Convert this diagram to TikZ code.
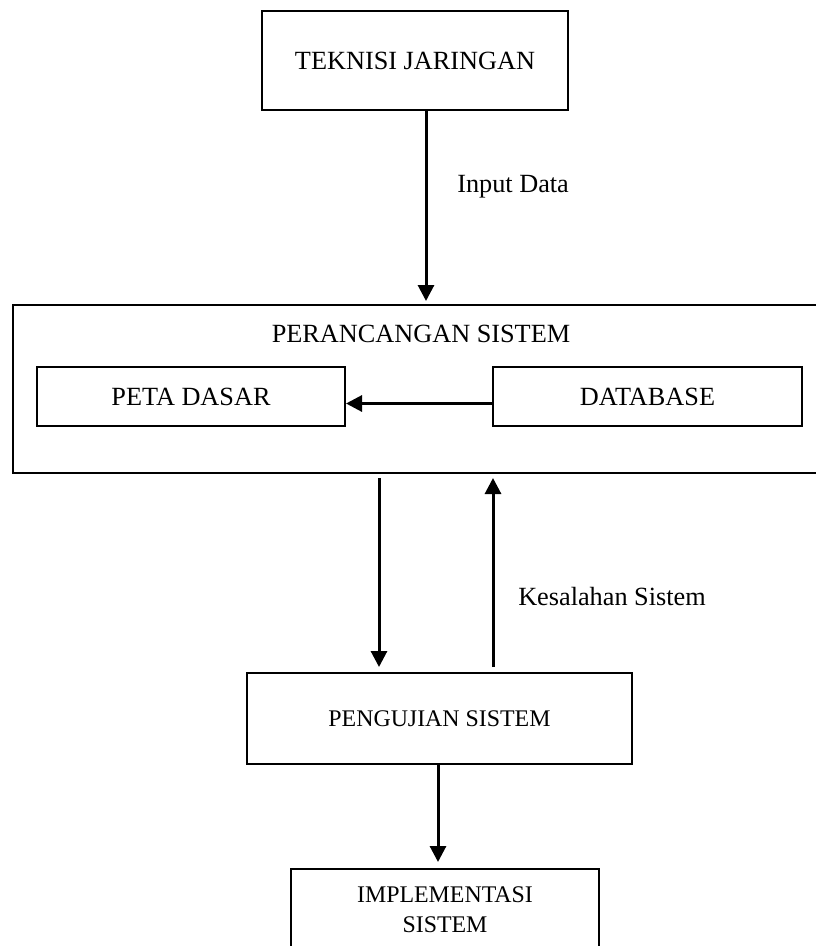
\documentclass[tikz,border=0pt]{standalone}
\usepackage{fontspec}
\setmainfont{Liberation Serif}
\usetikzlibrary{arrows.meta}
\begin{document}
\begin{tikzpicture}[x=0.75pt,y=-0.75pt,
  box/.style={draw,line width=1.5pt,rectangle,inner sep=0pt,font=\fontsize{19.7}{23}\selectfont},
  smallbox/.style={box,font=\fontsize{17.9}{22.5}\selectfont},
  label/.style={inner sep=0pt,font=\fontsize{19.7}{23}\selectfont},
  arr/.style={line width=2.25pt,-{Triangle[width=12pt,length=12pt]}}]
\useasboundingbox (0,0) rectangle (816,946);
\clip (0,0) rectangle (816,946);
% nodes
\node[box,minimum width=229.5pt,minimum height=74.25pt] (top) at (415,60.5) {TEKNISI JARINGAN};
\node[box,minimum width=612.75pt,minimum height=126pt] (per) at (421.5,389) {};
\node[label] (pertitle) at (421,333.5) {PERANCANGAN SISTEM};
\node[box,minimum width=231pt,minimum height=44.25pt] (peta) at (191,396.5) {PETA DASAR};
\node[box,minimum width=231.75pt,minimum height=44.25pt] (db) at (647.5,396.5) {DATABASE};
\node[smallbox,minimum width=288.75pt,minimum height=68.25pt] (pen) at (439.5,718.5) {PENGUJIAN SISTEM};
\node[smallbox,align=center,minimum width=231pt,minimum height=61.5pt] (impl) at (445,910) {IMPLEMENTASI\\SISTEM};
\node[label,anchor=base west] (lin) at (457,192) {Input Data};
\node[label,anchor=base west] (lkes) at (518,605) {Kesalahan Sistem};
% connector x positions
\coordinate (xa) at (426,0);
\coordinate (xb) at (379,0);
\coordinate (xc) at (493,0);
\coordinate (xd) at (438,0);
% connectors
\draw[arr,shorten >=2.25pt] (top.south -| xa) -- (per.north -| xa);
\draw[arr] ([yshift=-5.25pt]db.west) -- ([yshift=-5.25pt]peta.east);
\draw[arr,shorten <=3pt,shorten >=3.75pt] (per.south -| xb) -- (pen.north -| xb);
\draw[arr,shorten <=3.75pt,shorten >=3pt] (pen.north -| xc) -- (per.south -| xc);
\draw[arr,shorten >=4.5pt] (pen.south -| xd) -- (impl.north -| xd);
\end{tikzpicture}
\end{document}
